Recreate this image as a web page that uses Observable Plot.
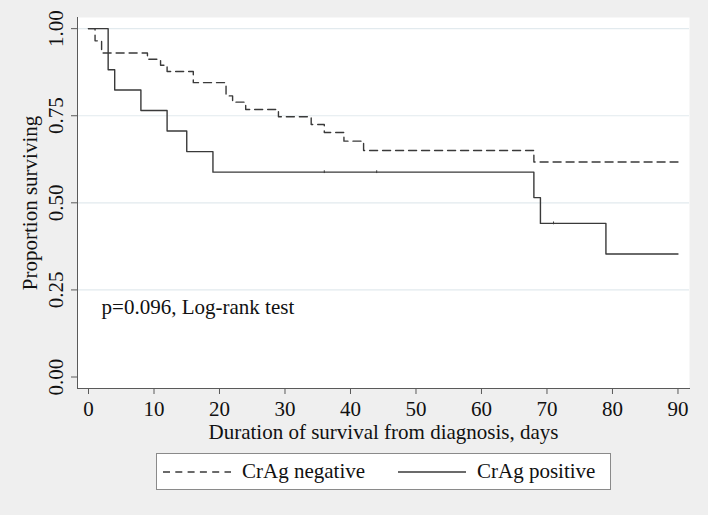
<!DOCTYPE html>
<html>
<head>
<meta charset="utf-8">
<script src="https://cdn.jsdelivr.net/npm/d3@7"></script>
<script src="https://cdn.jsdelivr.net/npm/@observablehq/plot@0.6"></script>
<style>
  html, body { margin: 0; padding: 0; background: #efefef; }
  body { width: 708px; height: 515px; overflow: hidden; position: relative; font-family: "Liberation Serif", "Times New Roman", serif; }
  #chart svg { display: block; }
  #legend { position: absolute; left: 156px; top: 453px; width: 455px; height: 37px; box-sizing: border-box;
            border: 1px solid #8a8a8a; background: #ffffff; }
  #legend .item { position: absolute; top: 0; height: 35px; display: flex; align-items: center; font-size: 21px; color: #111; }
  #legend svg { display: block; margin-right: 11px; }
</style>
</head>
<body>
<div id="chart"></div>
<div id="legend"></div>
<script>
// ---- data ----
const seriesNames = ["CrAg negative", "CrAg positive"];

const negDays = [0, 1, 2, 9, 11, 12, 16, 21, 22, 24, 29, 34, 36, 39, 42, 68, 90];
const negSurv = [1, 0.965, 0.930, 0.912, 0.895, 0.877, 0.845, 0.807, 0.789, 0.768, 0.747, 0.725, 0.702, 0.677, 0.650, 0.617, 0.617];

const posDays = [0, 3, 4, 8, 12, 15, 19, 68, 69, 79, 90];
const posSurv = [1, 0.882, 0.824, 0.765, 0.706, 0.647, 0.588, 0.515, 0.441, 0.353, 0.353];

const posCensorDays = [36, 44, 71];
const posCensorSurv = [0.588, 0.588, 0.441];

const xTicks = [0, 10, 20, 30, 40, 50, 60, 70, 80, 90];
const yTicks = [0, 0.25, 0.5, 0.75, 1];
const yGrid = [0.25, 0.5, 0.75, 1];

const noteText = "p=0.096, Log-rank test";
const noteDay = 2;
const noteSurv = 0.18;

const xTitle = "Duration of survival from diagnosis, days";
const yTitle = "Proportion surviving";

// ---- tables ----
const neg = negDays.map((d, i) => ({day: d, surv: negSurv[i]}));
const pos = posDays.map((d, i) => ({day: d, surv: posSurv[i]}));
const censor = posCensorDays.map((d, i) => ({day: d, surv: posCensorSurv[i]}));

const lineColor = "#3a3a3a";
const axisColor = "#5a5a5a";

const chart = Plot.plot({
  width: 708,
  height: 445,
  marginLeft: 77,
  marginRight: 19,
  marginTop: 17,
  marginBottom: 57,
  style: { fontFamily: "'Liberation Serif', 'Times New Roman', serif", fontSize: "20.5px", color: "#111", background: "transparent", overflow: "visible" },
  x: { domain: [-1.68, 91.76] },
  y: { domain: [-0.033, 1.032] },
  marks: [
    Plot.frame({ fill: "white", stroke: null }),
    Plot.gridY(yGrid, { stroke: "#e2eaee", strokeOpacity: 1, strokeWidth: 1.2 }),
    Plot.line(neg, { x: "day", y: "surv", curve: "step-after", stroke: lineColor, strokeWidth: 1.4, strokeDasharray: "8,5" }),
    Plot.line(pos, { x: "day", y: "surv", curve: "step-after", stroke: lineColor, strokeWidth: 1.4 }),
    Plot.ruleX(censor, { x: "day", y1: d => d.surv - 0.004, y2: d => d.surv + 0.004, stroke: lineColor, strokeWidth: 1 }),
    Plot.text([noteText], { x: noteDay, y: noteSurv, text: d => d, textAnchor: "start", lineAnchor: "bottom", fontSize: 21, fill: "#111" }),
    Plot.axisX({ ticks: xTicks, tickSize: 6, tickPadding: 7, stroke: axisColor, fill: "#111",
                 label: xTitle, labelAnchor: "center", labelArrow: "none", labelOffset: 50, fontSize: 21 }),
    Plot.axisY({ ticks: yTicks, tickFormat: d3.format(".2f"), tickSize: 6, tickPadding: 9, tickRotate: -90,
                 textAnchor: "middle", lineAnchor: "bottom", stroke: axisColor, fill: "#111",
                 label: yTitle, labelAnchor: "center", labelArrow: "none", labelOffset: 55, fontSize: 21 }),
    Plot.frame({ anchor: "left", stroke: axisColor }),
    Plot.frame({ anchor: "bottom", stroke: axisColor })
  ]
});
document.getElementById("chart").appendChild(chart);

// ---- legend ----
const legend = document.getElementById("legend");
const legendItems = [
  { name: seriesNames[0], dash: "7,5.3", left: 6 },
  { name: seriesNames[1], dash: null, left: 241 }
];
for (const it of legendItems) {
  const div = document.createElement("div");
  div.className = "item";
  div.style.left = it.left + "px";
  const s = d3.create("svg").attr("width", 68).attr("height", 10);
  s.append("line").attr("x1", 0).attr("x2", 68).attr("y1", 5).attr("y2", 5)
    .attr("stroke", lineColor).attr("stroke-width", 1.4)
    .attr("stroke-dasharray", it.dash);
  div.appendChild(s.node());
  const t = document.createElement("span");
  t.textContent = it.name;
  div.appendChild(t);
  legend.appendChild(div);
}
</script>
</body>
</html>
